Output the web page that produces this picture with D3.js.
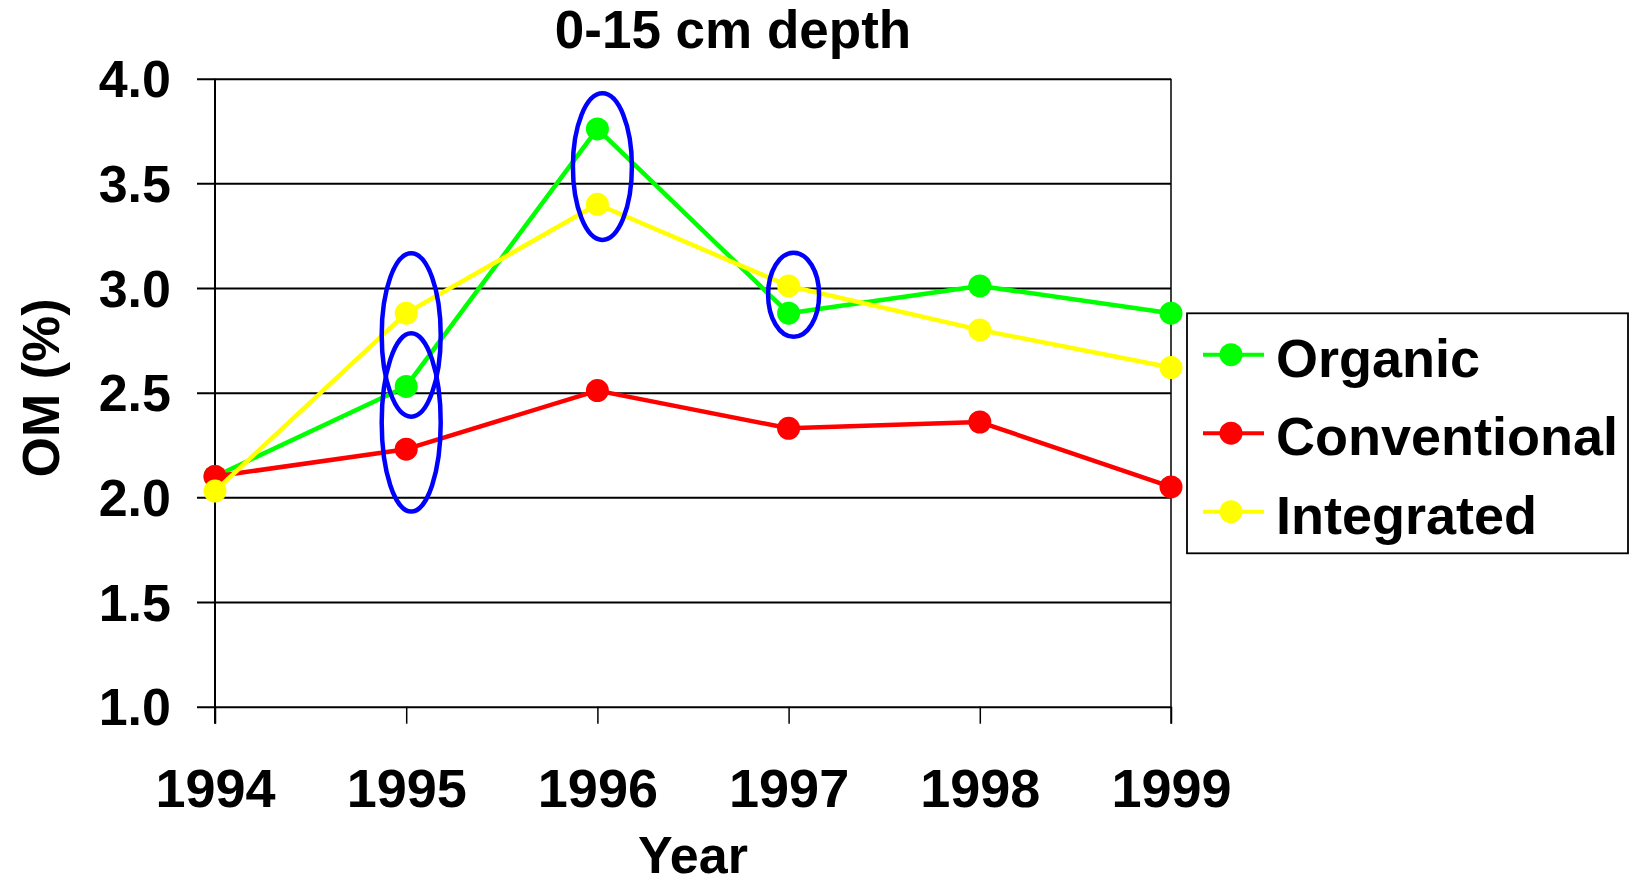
<!DOCTYPE html>
<html>
<head>
<meta charset="utf-8">
<script src="https://cdn.jsdelivr.net/npm/d3@7"></script>
<style>
  html, body { margin: 0; padding: 0; background: #fff; }
  svg { display: block; font-family: "Liberation Sans", Arial, sans-serif; font-weight: bold; }
</style>
</head>
<body>
<svg id="chart" width="1631" height="882"></svg>
<script>
// Soil organic matter (OM %) at 0-15 cm, by farming system
const years = ["1994", "1995", "1996", "1997", "1998", "1999"];
const organic      = [2.10, 2.53, 3.76, 2.88, 3.01, 2.88];
const conventional = [2.10, 2.23, 2.51, 2.33, 2.36, 2.05];
const integrated   = [2.03, 2.88, 3.40, 3.01, 2.80, 2.62];
const seriesNames  = ["Organic", "Conventional", "Integrated"];
const seriesColors = ["#00ff00", "#ff0000", "#ffff00"];
const yTicks = [1.0, 1.5, 2.0, 2.5, 3.0, 3.5, 4.0];
// Highlighted groups of values (year, low OM, high OM)
const highlights = [
  { year: "1995", lo: 2.385, hi: 3.166 },
  { year: "1995", lo: 1.932, hi: 2.784 },
  { year: "1996", lo: 3.23,  hi: 3.93 },
  { year: "1997", lo: 2.767, hi: 3.169 }
];

const svg = d3.select("#chart");
const plotLeft = 215, plotRight = 1171, plotTop = 78.7, plotBottom = 706.7;
const plotW = plotRight - plotLeft;

const x = d3.scalePoint().domain(years).range([plotLeft, plotRight]).padding(0);
const y = d3.scaleLinear().domain([1, 4]).range([plotBottom, plotTop]);

// Gridlines + y axis
const yAxis = svg.append("g")
  .attr("transform", `translate(${plotLeft},0)`)
  .call(d3.axisLeft(y).tickValues(yTicks).tickFormat(d3.format(".1f")).tickSize(18).tickPadding(26));
yAxis.select(".domain").remove();
yAxis.selectAll(".tick line").attr("x1", -18).attr("x2", plotW).attr("stroke", "#000").attr("stroke-width", 2);
yAxis.selectAll(".tick text").attr("font-size", 52).attr("dy", 18).attr("fill", "#000")
  .attr("font-family", "'Liberation Sans', Arial, sans-serif").attr("font-weight", "bold");

// X axis with tick marks below the plot
const xAxis = svg.append("g")
  .attr("transform", `translate(0,${plotBottom})`)
  .call(d3.axisBottom(x).tickSize(17));
xAxis.select(".domain").remove();
xAxis.selectAll(".tick line").attr("stroke", "#000").attr("stroke-width", 1.5);
xAxis.selectAll(".tick text").attr("font-size", 54).attr("y", 100.6).attr("dy", 0).attr("fill", "#000")
  .attr("font-family", "'Liberation Sans', Arial, sans-serif").attr("font-weight", "bold");

// Plot frame: left axis line and right border
svg.append("line").attr("x1", plotLeft).attr("x2", plotLeft).attr("y1", plotTop).attr("y2", plotBottom + 17)
  .attr("stroke", "#000").attr("stroke-width", 2);
svg.append("line").attr("x1", plotRight).attr("x2", plotRight).attr("y1", plotTop).attr("y2", plotBottom + 17)
  .attr("stroke", "#000").attr("stroke-width", 1.5);

// Series lines and markers
const seriesData = [organic, conventional, integrated];
const line = d3.line().x((d, i) => x(years[i])).y(d => y(d));
seriesData.forEach((vals, k) => {
  const g = svg.append("g");
  g.append("path").datum(vals).attr("d", line)
    .attr("fill", "none").attr("stroke", seriesColors[k]).attr("stroke-width", 4.5)
    .attr("stroke-linejoin", "round");
  g.selectAll("circle").data(vals).join("circle")
    .attr("cx", (d, i) => x(years[i])).attr("cy", d => y(d)).attr("r", 11.5)
    .attr("fill", seriesColors[k]);
});

// Blue ellipses around highlighted values
svg.append("g").selectAll("ellipse").data(highlights).join("ellipse")
  .attr("cx", d => x(d.year) + 5)
  .attr("cy", d => (y(d.lo) + y(d.hi)) / 2)
  .attr("rx", d => d.year === "1997" ? 25.5 : 29.5)
  .attr("ry", d => (y(d.lo) - y(d.hi)) / 2)
  .attr("fill", "none").attr("stroke", "#0000ff").attr("stroke-width", 4.5);

// Title and axis titles
svg.append("text").attr("x", 733).attr("y", 48).attr("text-anchor", "middle")
  .attr("font-size", 53).text("0-15 cm depth");
svg.append("text").attr("x", (plotLeft + plotRight) / 2).attr("y", 873).attr("text-anchor", "middle")
  .attr("font-size", 52).text("Year");
svg.append("text").attr("transform", "translate(59,388) rotate(-90)").attr("text-anchor", "middle")
  .attr("font-size", 52).text("OM (%)");

// Legend
const lg = svg.append("g");
lg.append("rect").attr("x", 1187).attr("y", 313.3).attr("width", 441).attr("height", 240)
  .attr("fill", "#fff").attr("stroke", "#000").attr("stroke-width", 1.8);
seriesNames.forEach((name, k) => {
  const cy = 354.7 + k * 78.5;
  lg.append("line").attr("x1", 1203).attr("x2", 1264).attr("y1", cy).attr("y2", cy)
    .attr("stroke", seriesColors[k]).attr("stroke-width", 4);
  lg.append("circle").attr("cx", 1231).attr("cy", cy).attr("r", 11.5).attr("fill", seriesColors[k]);
  lg.append("text").attr("x", 1276).attr("y", cy + 22).attr("font-size", 54).text(name);
});
</script>
</body>
</html>
